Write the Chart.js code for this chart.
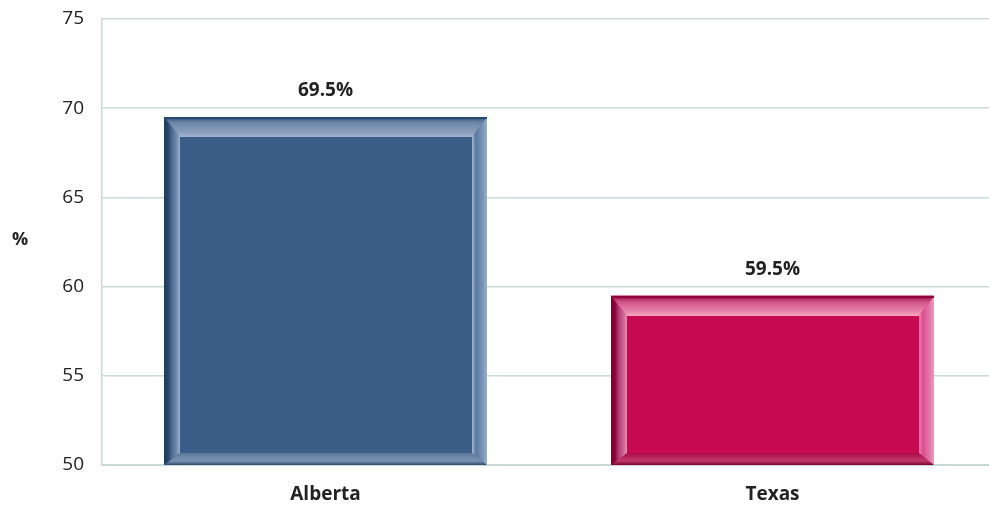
<!DOCTYPE html>
<html>
<head>
<meta charset="utf-8">
<script src="https://cdn.jsdelivr.net/npm/chart.js@4/dist/chart.umd.min.js"></script>
<style>
  html, body { margin: 0; padding: 0; background: #fff; overflow: hidden; }
  #wrap { width: 996px; height: 508px; position: relative; }
</style>
</head>
<body>
<div id="wrap"><canvas id="chart"></canvas></div>
<script>
// data
const categories = ['Alberta', 'Texas'];
const values = [69.5, 59.5];
const valueLabels = ['69.5%', '59.5%'];
const yTicks = [50, 55, 60, 65, 70, 75];

const FONT = '"Open Sans", "Noto Sans", sans-serif';
const GRID = '#c9dad6';

// bevel palettes per bar
const palettes = [
  {
    face: '#3a5e88',
    top: ['#274870', '#6882a5', '#7b92b2', '#8a9dbb', '#a6b5d1'],
    left: ['#203d5e', '#27456a', '#4f6d93', '#6a85a8', '#a0b2cc'],
    right: ['#a9b9d3', '#5a79a1', '#6c88ae', '#7e97b9', '#9db1cc'],
    bottom: ['#5b7598', '#6f88a9', '#7a92b1', '#2a4a6e']
  },
  {
    face: '#c70a52',
    top: ['#93003a', '#c94a82', '#dc6a98', '#e882a8', '#f5a8c0'],
    left: ['#7d002f', '#8f0037', '#b3407a', '#c86090', '#e890b0'],
    right: ['#f488b4', '#d84d8c', '#e066a0', '#e87aab', '#ef9dbc'],
    bottom: ['#a90a48', '#b8245a', '#c03a6a', '#7a002e']
  }
];

function stops(grad, cols) {
  cols.forEach((c, i) => grad.addColorStop(i / (cols.length - 1), c));
  return grad;
}

function poly(ctx, pts, fill) {
  ctx.beginPath();
  ctx.moveTo(pts[0][0], pts[0][1]);
  for (let i = 1; i < pts.length; i++) ctx.lineTo(pts[i][0], pts[i][1]);
  ctx.closePath();
  ctx.fillStyle = fill;
  ctx.fill();
}

const bevelPlugin = {
  id: 'bevel',
  afterDatasetsDraw(chart) {
    const ctx = chart.ctx;
    const meta = chart.getDatasetMeta(0);
    const bottom = chart.scales.y.getPixelForValue(yTicks[0]);
    meta.data.forEach((bar, i) => {
      const p = palettes[i];
      const x0 = Math.round(bar.x - bar.width / 2), x1 = Math.round(bar.x + bar.width / 2);
      const y0 = Math.round(bar.y), y1 = Math.round(Math.min(bar.base, bottom));
      const bt = 20, bl = 16, br = 15, bb = 12;
      ctx.save();
      // top
      poly(ctx, [[x0, y0], [x1, y0], [x1 - br, y0 + bt], [x0 + bl, y0 + bt]],
        stops(ctx.createLinearGradient(0, y0, 0, y0 + bt), p.top));
      // bottom
      poly(ctx, [[x0, y1], [x1, y1], [x1 - br, y1 - bb], [x0 + bl, y1 - bb]],
        stops(ctx.createLinearGradient(0, y1 - bb, 0, y1), p.bottom));
      // left
      poly(ctx, [[x0, y0], [x0 + bl, y0 + bt], [x0 + bl, y1 - bb], [x0, y1]],
        stops(ctx.createLinearGradient(x0, 0, x0 + bl, 0), p.left));
      // right
      poly(ctx, [[x1, y0], [x1 - br, y0 + bt], [x1 - br, y1 - bb], [x1, y1]],
        stops(ctx.createLinearGradient(x1 - br, 0, x1, 0), p.right));
      // outer top edge
      ctx.fillStyle = p.top[0];
      ctx.fillRect(x0, y0, x1 - x0, 2);

      // value label
      ctx.fillStyle = '#222';
      ctx.font = 'bold 19px ' + FONT;
      ctx.textAlign = 'center';
      ctx.textBaseline = 'middle';
      ctx.fillText(valueLabels[i], bar.x, y0 - 26);
      ctx.restore();
    });

    // y unit label
    ctx.save();
    ctx.fillStyle = '#222';
    ctx.font = 'bold 18px ' + FONT;
    ctx.textAlign = 'center';
    ctx.textBaseline = 'middle';
    ctx.fillText('%', 20, 240);
    ctx.restore();
  }
};

new Chart(document.getElementById('chart'), {
  type: 'bar',
  data: {
    labels: categories,
    datasets: [{
      data: values,
      backgroundColor: palettes.map(p => p.face),
      borderWidth: 0,
      categoryPercentage: 1,
      barPercentage: 0.722
    }]
  },
  options: {
    responsive: true,
    maintainAspectRatio: false,
    animation: false,
    layout: { padding: { top: 19, left: 0, right: 0, bottom: 0 } },
    plugins: {
      legend: { display: false },
      tooltip: { enabled: false }
    },
    scales: {
      x: {
        grid: { display: false, drawTicks: false },
        border: { display: true, color: GRID, width: 2 },
        ticks: {
          color: '#222',
          padding: 18,
          font: { family: FONT, size: 19, weight: 'bold' }
        },
        afterFit(scale) { scale.height = 43; }
      },
      y: {
        min: yTicks[0],
        max: yTicks[yTicks.length - 1],
        afterBuildTicks(scale) { scale.ticks = yTicks.map(v => ({ value: v })); },
        grid: { color: GRID, lineWidth: 1.5, drawTicks: false },
        border: { display: true, color: GRID, width: 1.5 },
        ticks: {
          color: '#222',
          padding: 18,
          font: { family: FONT, size: 19 }
        },
        afterFit(scale) {
          scale.width = 102;
          scale.paddingTop = 0;
          scale.paddingBottom = 0;
        }
      }
    }
  },
  plugins: [bevelPlugin]
});
</script>
</body>
</html>
